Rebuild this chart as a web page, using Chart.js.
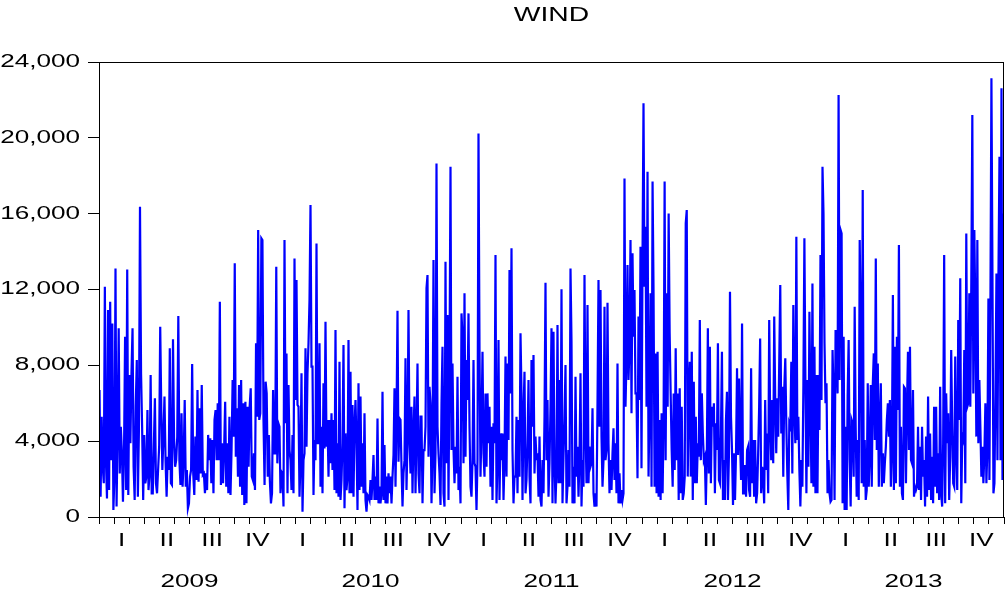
<!DOCTYPE html>
<html><head><meta charset="utf-8">
<script src="https://cdn.jsdelivr.net/npm/chart.js@4"></script>
<style>html,body{margin:0;padding:0;background:#fff}canvas{display:block}</style>
</head><body>
<canvas id="c" width="1005" height="594"></canvas>
<script>
const years = ['2009', '2010', '2011', '2012', '2013'];
const quarterLabels = ['I', 'II', 'III', 'IV'];
const yTicks = [0, 4000, 8000, 12000, 16000, 20000, 24000];

const wind2009 = [6700,1070,5290,2650,1780,12150,3000,980,10920,1420,11360,3000,10210,370,2130,13110,550,4590,9950,2300,4760,3450,810,3360,9510,1420,13060,1160,7490,3890,7580,9950,2650,900,5820,8280,1070,4590,16370,7580,4760,900,4330,1780,2130,5640,1420,2300,7490,1250,1250,3710,6260,1780,1250,2480,3710,10040,5640,2480,4240,6350,3000,1070,3180,2480,8900,1780,1690,9370,4150,2650,3000,4240,
10600,3000,1690,5470,1600,3000,6170,1600,2480,460,720,2130,2480,8070,2300,1160,4240,1950,6700,1860,5730,2300,6960,2220,2300,1250,2300,1420,4330,3000,4150,1780,4060,1250,5120,5640,3000,6000,3000,11360,1690,3890,1780,3530,6080,1600,3890,1250,5290,1160,3530,7230,4240,13380,3180,5730,2130,6960,1600,7230,1160,6000,630,6080,720,5820,2650,5820,6790,2130,1950,3360,1420,9160,5290,15140,5120,5470,14700,14610,
5120,1690,7140,6520,2130,4330,1860,720,1250,6700,3360,3360,13200,2830,4940,4760];

const wind2010 = [1250,2390,2300,550,14610,4940,8630,1250,6960,3530,3000,1420,4330,1250,13640,6170,12500,5910,5820,1070,3000,7580,280,3000,3360,8900,3710,7580,9160,11440,16460,7930,7930,1160,4060,3000,14430,3890,3890,9160,1600,4760,1250,7050,3620,10300,3710,5120,2130,5120,2830,5470,2480,5120,1420,9860,1250,3890,1070,8190,900,1950,3890,9070,460,4410,
1420,2130,9330,1250,7660,1250,5910,1070,4760,6170,3890,370,7050,1420,6350,1600,3890,1250,5470,900,280,1160,1070,900,1950,900,1950,3270,900,2130,900,5200,720,1600,720,1250,6610,900,3800,720,2130,720,2300,1250,2130,720,2130,3270,6790,1600,5200,10880,2920,5200,5120,2650,550,2300,3000,8370,1420,4060,10920,4060,2300,5820,1250,4410,6350,1250,4410,8100,2300,1250,5290,5290,720,3530,3530,4760,12060,12760,3180,
6870,6000,720,3530,13550,1250,3360,18650,4760,3360,2300,630,6000,8980,1250,550,13470,2830,10650,900,8100,18480,3530,8100,3620,1780,3710,2300,7400,1420,2650,720];

const wind2011 = [10740,9510,2830,11800,3180,8280,6170,10740,4760,1600,1070,3000,8280,2830,2650,370,3000,20230,8810,2130,4760,8720,3360,2130,6520,2650,6520,3890,5820,1600,4760,900,4940,3890,13820,720,3000,9330,900,4410,3000,4410,900,3000,8460,2130,8100,4060,13030,6520,14170,
3530,720,2130,2130,5290,1250,5120,2130,9690,6520,900,5470,7660,1250,1950,3890,7230,2130,720,8280,4760,8540,2300,4240,3000,3360,1070,4240,900,550,3000,1250,5290,12360,3000,6170,1070,2830,5820,9950,720,9770,3000,720,2480,10130,1780,7230,1780,12010,720,3180,5120,8020,720,1600,3530,1600,13110,9250,720,2650,720,7400,2130,3710,1070,3180,7580,550,3000,1600,12760,4760,1780,11180,1780,3710,2650,2830,5730,1250,550,
1250,550,6000,12500,4760,11970,4240,1600,3000,11090,3000,3530,11300,3890,1250,3000,1420,3360,4680,1950,3890,1250,8100,720,2300,720,1420,900,1250,17860,5820,8280,13290,7230,8980,14610,5470,13910,9510,11970,6520,6520,2040,10570,6170,14260,2570];

const wind2012 = [13550,21820,12150,15310,5820,18210,2130,5820,11800,1600,17690,11800,1600,8630,1250,8720,1070,5120,900,5470,1250,5290,17690,3000,11800,5820,16010,9690,6520,3530,1600,6520,2480,8900,3000,
6520,900,6790,1250,5820,900,1250,2130,15490,16190,2130,6520,8190,2130,8720,900,7140,1780,5290,1780,3890,3180,10390,3000,6520,4410,3000,3180,630,3360,9950,2300,8980,1780,5820,4760,6000,1250,4940,3530,9160,1950,1780,4410,8720,900,3000,900,5120,6610,900,3360,11880,5290,3530,630,3360,900,3360,7840,3270,7310,4060,1950,10210,1250,1250,2740,1070,3530,3710,1420,1070,7840,1780,4060,1070,4060,720,1250,3360,5820,9420,
1250,2650,2130,720,6170,2480,4410,1250,10390,4940,3000,6170,2830,10570,6170,3360,6260,4240,8280,12240,4410,6870,2130,6790,8370,4940,2300,370,4940,4760,8190,2300,11180,5640,3890,14780,4060,5290,2480,550,3000,1600,6960,14700,7230,1250,7230,2650,10830,6000,1780,12320,1600,8980,1250,7490,1250,7490,4590,13820,6170,18480];

const wind2013 = [16010,9160,6000,7050,1250,3000,1250,810,900,8810,6520,900,9860,9070,6520,22260,7230,15140,14960,720,
9510,370,4760,370,6350,9330,3000,550,5120,4940,2130,11090,4760,1070,4060,900,14610,10040,1780,17250,1600,4060,900,1420,7050,1600,3360,6960,1600,6960,8630,4060,13640,3530,8100,1600,4940,7050,1600,3360,1780,2830,3710,5120,6000,4240,6170,1600,3530,11710,1420,8980,1780,9510,5640,14350,1600,4760,1250,900,6870,6790,1780,5820,8720,3530,8980,3000,2830,6700,1070,1600,1420,1600,4760,1420,3710,900,4760,2130,3000,550,4240,
1070,6350,1420,4410,900,3180,720,5820,1600,5820,1250,3360,900,6870,1250,550,3890,13820,720,6520,3890,5470,900,3180,8810,4760,1780,1600,8460,3530,1420,10390,5120,12590,720,4240,4060,8810,1780,14960,5820,6000,11800,5820,12500,21200,6520,15140,10920,4240,14610,3890,7230,4760,2130,3710,1780,3360,6000,1780,3710,11530,1950,11270,23140,13030,1250,1780,6520,12850,3000,12850,19000,3000,22610,1950,16010];

const yearSeries = [wind2009, wind2010, wind2011, wind2012, wind2013];
const points = [];
yearSeries.forEach((arr, yi) => arr.forEach((v, i) => points.push({x: yi * 12 + 12 * (i + 0.5) / arr.length, y: v})));

const TEXT_SX = 1.45;
const canvas = document.getElementById('c');
const ctx = canvas.getContext('2d');
const nativeFill = CanvasRenderingContext2D.prototype.fillText;
ctx.fillText = function (t, x, y) {
  this.save(); this.translate(x, y); this.scale(TEXT_SX, 1);
  nativeFill.call(this, t, 0, 0);
  this.restore();
};

const FAM = '"Liberation Sans", Arial, sans-serif';
const frame = {
  id: 'frame',
  afterDraw(chart) {
    const {ctx: c, chartArea: a} = chart;
    c.save(); c.strokeStyle = '#000'; c.lineWidth = 1;
    c.strokeRect(Math.round(a.left) + 0.5, Math.round(a.top) + 0.5, Math.round(a.right - a.left) - 1, Math.round(a.bottom - a.top));
    c.restore();
  }
};

new Chart(ctx, {
  type: 'line',
  data: {datasets: [{data: points, borderColor: '#0000ff', borderWidth: 2.2, pointRadius: 0, tension: 0, fill: false}]},
  options: {
    responsive: false, animation: false, devicePixelRatio: 1,
    parsing: false, normalized: true,
    layout: {padding: {left: 0, right: 1, top: 0, bottom: 0}},
    plugins: {
      legend: {display: false}, tooltip: {enabled: false},
      title: {display: true, text: 'WIND', fullSize: false, color: '#000',
        font: {family: FAM, size: 19.5, weight: 'normal', lineHeight: 1.2},
        padding: {top: 4, bottom: 34.6}}
    },
    scales: {
      x: {
        type: 'linear', min: 0, max: 60,
        afterBuildTicks(s) {
          const t = [];
          for (let m = 0; m <= 60; m++) t.push({value: m});
          for (let q = 0; q < 20; q++) t.push({value: q * 3 + 1.5});
          t.sort((a, b) => a.value - b.value);
          s.ticks = t;
        },
        afterFit(s) { s.height = 77; },
        border: {display: true, color: '#000', width: 1},
        grid: {drawOnChartArea: false, drawTicks: true, tickLength: 7, tickWidth: 1,
          tickColor: (c) => (c.tick && Number.isInteger(c.tick.value)) ? '#000' : 'rgba(0,0,0,0)'},
        ticks: {
          autoSkip: false, maxRotation: 0, minRotation: 0, padding: -3, color: '#000',
          font: {family: FAM, size: 18, lineHeight: '40.5px'},
          callback(v) {
            const r = v % 12;
            if (r === 6) return ['', years[Math.floor(v / 12)]];
            if (Math.abs((r % 3) - 1.5) < 1e-9) return quarterLabels[Math.floor(r / 3)];
            return '';
          }
        }
      },
      y: {
        type: 'linear', min: 0, max: 24000,
        afterBuildTicks(s) { s.ticks = yTicks.map(v => ({value: v})); },
        afterFit(s) { s.width = 99; },
        border: {display: true, color: '#000', width: 1},
        grid: {drawOnChartArea: false, drawTicks: true, tickLength: 11, tickColor: '#000'},
        ticks: {color: '#000', padding: 8, font: {family: FAM, size: 18},
          callback: v => v.toLocaleString('en-US')}
      }
    }
  },
  plugins: [frame]
});
</script>
</body></html>
